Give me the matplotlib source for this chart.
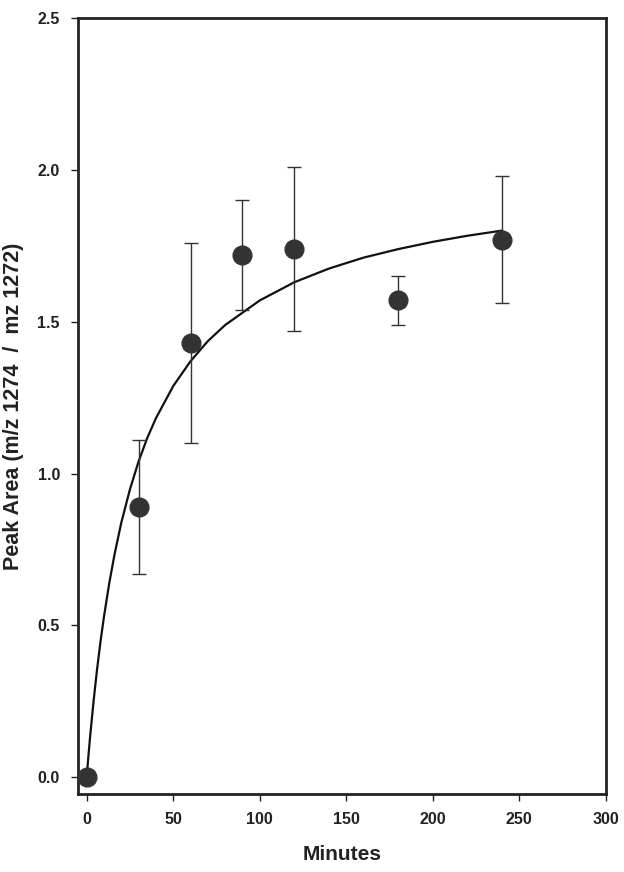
import matplotlib
matplotlib.use("Agg")
import matplotlib.pyplot as plt

# Measured points
minutes = [0, 30, 60, 90, 120, 180, 240]
peak_ratio = [0.0, 0.89, 1.43, 1.72, 1.74, 1.57, 1.77]
err = [0.0, 0.22, 0.33, 0.18, 0.27, 0.08, 0.21]

# Fitted curve
curve_x = [0, 1, 2, 4, 6, 8, 10, 13, 16, 20, 25, 30, 35, 40, 50, 60, 70, 80,
           100, 120, 140, 160, 180, 200, 220, 240]
curve_y = [0.0, 0.069, 0.134, 0.251, 0.355, 0.447, 0.529, 0.637, 0.731, 0.838,
           0.948, 1.040, 1.117, 1.182, 1.288, 1.370, 1.436, 1.489, 1.570, 1.630,
           1.675, 1.711, 1.739, 1.763, 1.783, 1.800]

x_ticks = [0, 50, 100, 150, 200, 250, 300]
y_ticks = [0.0, 0.5, 1.0, 1.5, 2.0, 2.5]

plt.rcParams['font.family'] = ['Liberation Sans', 'DejaVu Sans']

fig = plt.figure(figsize=(6.24, 8.72), dpi=100)
ax = fig.add_axes([0.125, 0.0894, 0.846, 0.8900])

ax.plot(curve_x, curve_y, color='#111111', lw=1.6, zorder=2)
ax.errorbar(minutes, peak_ratio, yerr=err, fmt='none', ecolor='#333333',
            elinewidth=1.0, capsize=5, capthick=1.0, zorder=3)
ax.plot(minutes, peak_ratio, 'o', color='#333333', markersize=13.5, zorder=4)

ax.set_xlim(-5, 300)
ax.set_ylim(-0.055, 2.5)
ax.set_xticks(x_ticks)
ax.set_yticks(y_ticks)
ax.set_xticklabels([str(v) for v in x_ticks])
ax.set_yticklabels([f"{v:.1f}" for v in y_ticks])

for s in ax.spines.values():
    s.set_linewidth(2.0)
    s.set_color('#222222')
ax.tick_params(direction='out', length=5, width=1.0, colors='#222222',
               labelsize=11.5, pad=8)
for lab in ax.get_xticklabels() + ax.get_yticklabels():
    lab.set_fontweight('bold')
    lab.set_color('#222222')

ax.set_xlabel('Minutes', fontsize=15, fontweight='bold', color='#222222', labelpad=13)
ax.set_ylabel('Peak Area (m/z 1274  /  mz 1272)', fontsize=15.5, fontweight='bold',
              color='#222222', labelpad=10)

fig.savefig('out.png', dpi=100)
